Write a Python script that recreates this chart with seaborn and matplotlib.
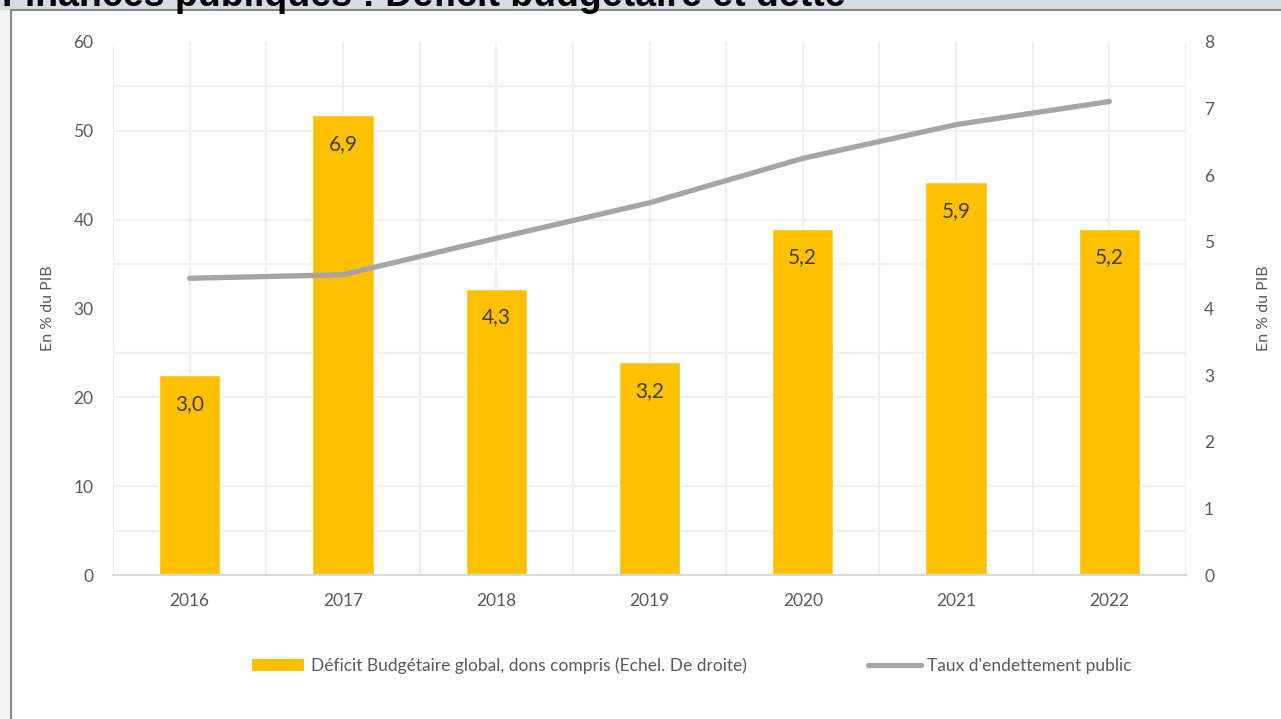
import numpy as np
import pandas as pd
import matplotlib
matplotlib.use("Agg")
import matplotlib.pyplot as plt
from matplotlib.patches import Rectangle
from matplotlib.lines import Line2D
import seaborn as sns

# data
years = ["2016", "2017", "2018", "2019", "2020", "2021", "2022"]
deficit = [3.0, 6.9, 4.3, 3.2, 5.2, 5.9, 5.2]          # right axis, bars
debt = [33.4, 33.8, 37.9, 41.9, 46.9, 50.7, 53.3]       # left axis, line
deficit_labels = ["3,0", "6,9", "4,3", "3,2", "5,2", "5,9", "5,2"]

bar_name = "Déficit Budgétaire global, dons compris (Echel. De droite)"
line_name = "Taux d'endettement public"
title = "Finances publiques : Déficit budgétaire et dette"

sns.set_style("white")
plt.rcParams["font.family"] = ["Lato", "DejaVu Sans"]

txt = "#595959"
grid_c = "#efefef"

df = pd.DataFrame({"year": years, "deficit": deficit, "debt": debt})
df["pos"] = np.arange(len(df))

fig = plt.figure(figsize=(12.81, 7.19), dpi=100)

# screenshot frame: title band and borders
fig.patches.append(Rectangle((0, 709 / 719), 1, 10 / 719, transform=fig.transFigure,
                             facecolor="#d6dce4", edgecolor="none", zorder=0))
fig.patches.append(Rectangle((0, 0), 11 / 1281, 709 / 719, transform=fig.transFigure,
                             facecolor="#f3f3f3", edgecolor="none", zorder=0))
fig.lines.append(Line2D([11 / 1281, 1], [709 / 719, 709 / 719], transform=fig.transFigure,
                        color="#8a8a8a", lw=1.5))
fig.lines.append(Line2D([11 / 1281, 11 / 1281], [0, 709 / 719], transform=fig.transFigure,
                        color="#8a8a8a", lw=1.5))
fig.text(2 / 1281, 1 - 6 / 719, title, fontsize=27, fontweight="bold", color="black",
         va="baseline", ha="left", family=["Liberation Sans", "DejaVu Sans"])

ax = fig.add_axes([113 / 1281, 144 / 719, 1073 / 1281, 533 / 719])
ax2 = ax.twinx()

# bars on the right scale (drawn first, under the line)
sns.barplot(data=df, x="year", y="deficit", ax=ax, color="#ffc000", width=0.4,
            saturation=1, zorder=2)
ax.bar_label(ax.containers[0], labels=deficit_labels, padding=-28, fontsize=15,
             color="#404040")
ax.set_ylim(0, 8)
ax.set_xlim(-0.5, len(years) - 0.5)
ax.yaxis.tick_right()
ax.yaxis.set_label_position("right")
ax.set_yticks(np.arange(0, 9, 1))
ax.set_yticks(np.linspace(0, 8, 13), minor=True)
ax.set_xticks(np.arange(-0.5, len(years), 1), minor=True)
ax.grid(axis="y", which="minor", color=grid_c, lw=1.6)
ax.grid(axis="x", which="both", color=grid_c, lw=1.6)
ax.set_axisbelow(True)
ax.tick_params(axis="y", which="both", length=0, labelsize=12.5, labelcolor=txt, pad=13)
ax.tick_params(axis="x", which="major", length=0, labelsize=12.5, labelcolor=txt, pad=13)
ax.tick_params(axis="x", which="minor", length=6, color="#d9d9d9", width=1.5, direction="out")
ax.set_xlabel("")
ax.set_ylabel("En % du PIB", fontsize=11.5, color=txt, labelpad=31)

# line on the left scale
sns.lineplot(data=df, x="pos", y="debt", ax=ax2, color="#a5a5a5", lw=3.8,
             solid_capstyle="round", label=line_name, legend=False)
ax2.set_ylim(0, 60)
ax2.yaxis.tick_left()
ax2.yaxis.set_label_position("left")
ax2.set_yticks(np.arange(0, 61, 10))
ax2.tick_params(axis="y", length=0, labelsize=12.5, labelcolor=txt, pad=14)
ax2.set_ylabel("En % du PIB", fontsize=11.5, color=txt, labelpad=13)
ax2.set_xlabel("")

for a in (ax, ax2):
    for side in ("left", "right", "top"):
        a.spines[side].set_visible(False)
    a.spines["bottom"].set_color("#d9d9d9")
    a.spines["bottom"].set_linewidth(1.5)

handles = [Rectangle((0, 0), 1, 1, facecolor="#ffc000", edgecolor="none"),
           Line2D([0], [0], color="#a5a5a5", lw=3.8, solid_capstyle="round")]
fig.legend(handles, [bar_name, line_name], loc="center", ncol=2,
           bbox_to_anchor=(692 / 1281, 1 - 666 / 719), frameon=False, fontsize=12.5,
           labelcolor=txt, handlelength=3.0, handleheight=0.65, handletextpad=0.4,
           columnspacing=7.0)

fig.savefig("out.png", dpi=100)
